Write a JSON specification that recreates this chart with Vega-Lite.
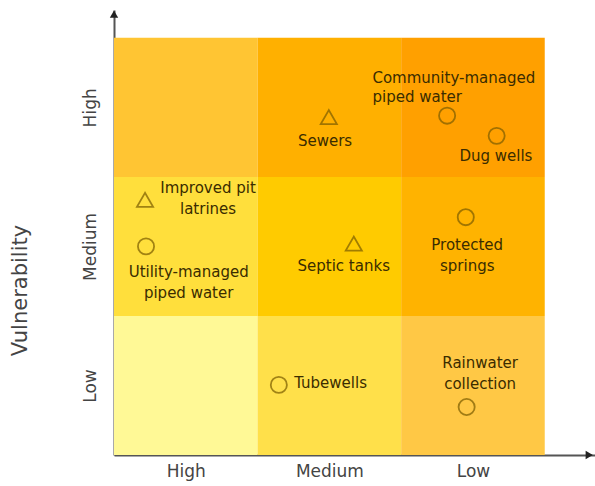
{
  "$schema": "https://vega.github.io/schema/vega-lite/v6.json",
  "width": 481,
  "height": 445,
  "autosize": "none",
  "padding": {"left": 114, "top": 10, "right": 0, "bottom": 31},
  "background": "white",
  "config": {"view": {"stroke": null}, "font": "DejaVu Sans"},
  "datasets": {
    "cells": [
      {"x0": 0, "x1": 1, "y0": 2, "y1": 3, "cell": "HH"},
      {"x0": 1, "x1": 2, "y0": 2, "y1": 3, "cell": "MH"},
      {"x0": 2, "x1": 3, "y0": 2, "y1": 3, "cell": "LH"},
      {"x0": 0, "x1": 1, "y0": 1, "y1": 2, "cell": "HM"},
      {"x0": 1, "x1": 2, "y0": 1, "y1": 2, "cell": "MM"},
      {"x0": 2, "x1": 3, "y0": 1, "y1": 2, "cell": "LM"},
      {"x0": 0, "x1": 1, "y0": 0, "y1": 1, "cell": "HL"},
      {"x0": 1, "x1": 2, "y0": 0, "y1": 1, "cell": "ML"},
      {"x0": 2, "x1": 3, "y0": 0, "y1": 1, "cell": "LL"}
    ],
    "points": [
      {"name": "Sewers", "x": 1.496, "y": 2.43, "kind": "triangle"},
      {"name": "Community-managed piped water", "x": 2.32, "y": 2.44, "kind": "circle"},
      {"name": "Dug wells", "x": 2.665, "y": 2.295, "kind": "circle"},
      {"name": "Improved pit latrines", "x": 0.216, "y": 1.835, "kind": "triangle"},
      {"name": "Utility-managed piped water", "x": 0.223, "y": 1.5, "kind": "circle"},
      {"name": "Septic tanks", "x": 1.67, "y": 1.52, "kind": "triangle"},
      {"name": "Protected springs", "x": 2.45, "y": 1.71, "kind": "circle"},
      {"name": "Tubewells", "x": 1.148, "y": 0.504, "kind": "circle"},
      {"name": "Rainwater collection", "x": 2.456, "y": 0.345, "kind": "circle"}
    ],
    "labelsCenter": [
      {"text": "Sewers", "x": 1.47, "y": 2.26},
      {"text": "Dug wells", "x": 2.66, "y": 2.15},
      {"text": "Improved pit\nlatrines", "x": 0.655, "y": 1.92},
      {"text": "Utility-managed\npiped water", "x": 0.52, "y": 1.316},
      {"text": "Septic tanks", "x": 1.6, "y": 1.36},
      {"text": "Protected\nsprings", "x": 2.46, "y": 1.51},
      {"text": "Rainwater\ncollection", "x": 2.55, "y": 0.662}
    ],
    "labelsLeft": [
      {"text": "Community-managed\npiped water", "x": 1.8, "y": 2.711},
      {"text": "Tubewells", "x": 1.255, "y": 0.518}
    ],
    "arrowRight": [{"x": 3.31, "y": 0}],
    "arrowUp": [{"x": 0, "y": 3.17}]
  },
  "layer": [
    {
      "data": {"name": "cells"},
      "mark": {"type": "rect"},
      "encoding": {
        "x": {"field": "x0", "type": "quantitative", "scale": {"domain": [0, 3.35], "nice": false},
          "axis": {"values": [0.5, 1.5, 2.5], "labelExpr": "datum.value < 1 ? 'High' : datum.value < 2 ? 'Medium' : 'Low'",
            "title": null, "grid": false, "ticks": false, "domainColor": "#555555", "domainWidth": 2,
            "labelFontSize": 17, "labelColor": "#444444", "labelPadding": 8}},
        "x2": {"field": "x1"},
        "y": {"field": "y0", "type": "quantitative", "scale": {"domain": [0, 3.2], "nice": false},
          "axis": {"values": [0.5, 1.5, 2.5], "labelExpr": "datum.value < 1 ? 'Low' : datum.value < 2 ? 'Medium' : 'High'",
            "title": "Vulnerability", "titleFontSize": 21, "titleFontWeight": "normal", "titleColor": "#444444",
            "titleX": -94, "titleY": 280, "titleAngle": -90, "titleAlign": "center", "titleBaseline": "middle",
            "grid": false, "ticks": false, "domainColor": "#555555", "domainWidth": 2,
            "labelFontSize": 17, "labelColor": "#444444", "labelAngle": -90, "labelAlign": "center", "labelBaseline": "bottom", "labelPadding": 15}},
        "y2": {"field": "y1"},
        "color": {"field": "cell", "type": "nominal", "legend": null,
          "scale": {"domain": ["HH", "MH", "LH", "HM", "MM", "LM", "HL", "ML", "LL"],
            "range": ["#FFC533", "#FFB000", "#FFA000", "#FFDF3C", "#FFCB00", "#FFB300", "#FFF996", "#FFE04A", "#FFC845"]}}
      }
    },
    {
      "data": {"name": "points"},
      "mark": {"type": "point", "filled": false, "strokeWidth": 1.8, "color": "#7A5C00", "size": 260},
      "encoding": {
        "x": {"field": "x", "type": "quantitative"},
        "y": {"field": "y", "type": "quantitative"},
        "shape": {"field": "kind", "type": "nominal", "legend": null,
          "scale": {"domain": ["circle", "triangle"], "range": ["circle", "triangle-up"]}}
      }
    },
    {
      "data": {"name": "labelsCenter"},
      "mark": {"type": "text", "align": "center", "baseline": "middle", "lineBreak": "\n", "fontSize": 15, "color": "#3A2C00", "lineHeight": 21},
      "encoding": {
        "x": {"field": "x", "type": "quantitative"},
        "y": {"field": "y", "type": "quantitative"},
        "text": {"field": "text"}
      }
    },
    {
      "data": {"name": "labelsLeft"},
      "mark": {"type": "text", "align": "left", "baseline": "middle", "lineBreak": "\n", "fontSize": 15, "color": "#3A2C00", "lineHeight": 19},
      "encoding": {
        "x": {"field": "x", "type": "quantitative"},
        "y": {"field": "y", "type": "quantitative"},
        "text": {"field": "text"}
      }
    },
    {
      "data": {"name": "arrowRight"},
      "mark": {"type": "point", "shape": "triangle-right", "filled": true, "color": "#222222", "size": 70, "opacity": 1, "clip": false},
      "encoding": {
        "x": {"field": "x", "type": "quantitative"},
        "y": {"field": "y", "type": "quantitative"}
      }
    },
    {
      "data": {"name": "arrowUp"},
      "mark": {"type": "point", "shape": "triangle-up", "filled": true, "color": "#222222", "size": 70, "opacity": 1, "clip": false},
      "encoding": {
        "x": {"field": "x", "type": "quantitative"},
        "y": {"field": "y", "type": "quantitative"}
      }
    }
  ]
}
